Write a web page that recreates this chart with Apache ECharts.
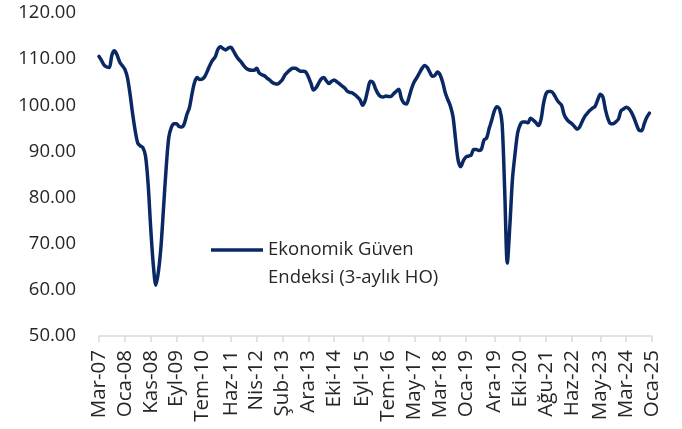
<!DOCTYPE html>
<html>
<head>
<meta charset="utf-8">
<script src="https://cdn.jsdelivr.net/npm/echarts@6/dist/echarts.min.js"></script>
<style>
html,body{margin:0;padding:0;background:#fff;}
#chart{width:682px;height:429px;}
</style>
</head>
<body>
<div id="chart"></div>
<script>
// Month names (Turkish) used to build monthly categories Mar-07 .. Oca-25
const monthNames = ['Oca','Şub','Mar','Nis','May','Haz','Tem','Ağu','Eyl','Eki','Kas','Ara'];
const startYear = 2007, startMonth = 2, monthCount = 215;

// Tick labels shown on the x axis
const tickLabels = ['Mar-07','Oca-08','Kas-08','Eyl-09','Tem-10','Haz-11','Nis-12','Şub-13','Ara-13','Eki-14','Eyl-15','Tem-16','May-17','Mar-18','Oca-19','Ara-19','Eki-20','Ağu-21','Haz-22','May-23','Mar-24','Oca-25'];

// Ekonomik Güven Endeksi (3-aylık HO), monthly from Mar-07
const confidence = [
110.6,109.7,108.7,108.3,108.2,110.9,111.8,110.9,109.4,108.6,
107.8,106.0,102.5,98.2,94.5,91.8,91.2,90.8,89.0,83.0,
73.5,65.5,61.0,64.0,69.5,78.0,86.5,93.0,95.2,96.0,
96.0,95.4,95.3,96.0,98.0,99.5,102.5,105.0,106.0,105.6,
105.7,106.3,107.5,108.8,109.8,110.5,112.1,112.7,112.3,112.0,
112.4,112.6,111.8,110.8,110.0,109.4,108.6,108.0,107.7,107.6,
107.6,108.0,107.0,106.6,106.4,105.9,105.5,105.0,104.7,104.6,
105.0,105.6,106.6,107.2,107.7,108.0,108.0,107.7,107.4,107.4,
107.2,106.2,104.8,103.3,103.8,104.8,105.7,106.0,105.3,104.7,
105.2,105.5,105.1,104.7,104.2,103.8,103.1,102.8,102.7,102.3,
101.8,101.2,100.0,101.0,103.3,105.2,105.0,103.6,102.5,101.9,
101.8,102.0,101.9,101.9,102.5,103.0,103.5,101.5,100.5,100.3,
101.8,103.7,105.1,106.0,107.0,108.0,108.6,108.2,107.2,106.3,
106.5,107.2,106.6,105.0,102.7,101.2,99.8,97.5,92.5,88.0,
86.7,88.0,88.8,89.0,89.2,90.4,90.4,90.2,90.5,92.5,
92.9,95.0,96.8,98.8,99.7,99.2,96.0,81.5,65.8,74.0,
84.0,89.5,94.0,95.8,96.4,96.4,96.2,97.2,96.8,96.3,
95.6,96.8,100.3,102.5,103.0,103.0,102.4,101.4,100.6,100.0,
98.0,97.0,96.4,96.0,95.4,94.8,95.3,96.5,97.6,98.3,
98.9,99.4,99.8,101.2,102.4,101.8,99.0,97.0,96.0,96.0,
96.4,97.0,98.8,99.2,99.6,99.3,98.5,97.3,95.8,94.6,
94.5,96.0,97.4,98.3
];

const seriesName = 'Ekonomik Güven\nEndeksi (3-aylık HO)';

const categories = [];
for (let i = 0; i < monthCount; i++) {
  const m = (startMonth + i) % 12;
  const y = startYear + Math.floor((startMonth + i) / 12);
  categories.push(monthNames[m] + '-' + String(y % 100).padStart(2, '0'));
}
const showTick = (idx, val) => tickLabels.indexOf(categories[idx]) !== -1;

const textColor = '#262626';
const fontFamily = '"Open Sans", "Noto Sans", sans-serif';
const lineColor = '#0a2864';

const chart = echarts.init(document.getElementById('chart'), null, {renderer: 'canvas'});
chart.setOption({
  animation: false,
  backgroundColor: '#ffffff',
  grid: {left: 99, right: 30, top: 13, bottom: 93, containLabel: false},
  legend: {
    left: 211,
    top: 208,
    padding: 0,
    icon: 'rect',
    itemWidth: 52,
    itemHeight: 3.5,
    itemGap: 0,
    data: [{name: seriesName}],
    // leading blank line keeps the first text line level with the legend line
    formatter: name => '\n' + name,
    textStyle: {
      color: textColor, fontFamily: fontFamily, fontSize: 18.5,
      lineHeight: 28
    },
    itemStyle: {color: lineColor}
  },
  xAxis: {
    type: 'category',
    data: categories,
    boundaryGap: false,
    axisLine: {show: true, lineStyle: {color: '#d9d9d9', width: 1.5}},
    axisTick: {show: true, interval: showTick, length: 6, lineStyle: {color: '#d9d9d9', width: 1.5}},
    axisLabel: {
      interval: showTick, rotate: 90, margin: 14,
      color: textColor, fontFamily: fontFamily, fontSize: 20.5
    },
    splitLine: {show: false}
  },
  yAxis: {
    type: 'value',
    min: 50, max: 120, interval: 10,
    axisLine: {show: false},
    axisTick: {show: false},
    splitLine: {show: false},
    axisLabel: {
      margin: 23,
      color: textColor, fontFamily: fontFamily, fontSize: 18.5,
      formatter: v => v.toFixed(2)
    }
  },
  series: [{
    name: seriesName,
    type: 'line',
    data: confidence,
    showSymbol: false,
    smooth: 0.3,
    lineStyle: {color: lineColor, width: 3.5, cap: 'round', join: 'round'},
    itemStyle: {color: lineColor}
  }]
});
</script>
</body>
</html>
